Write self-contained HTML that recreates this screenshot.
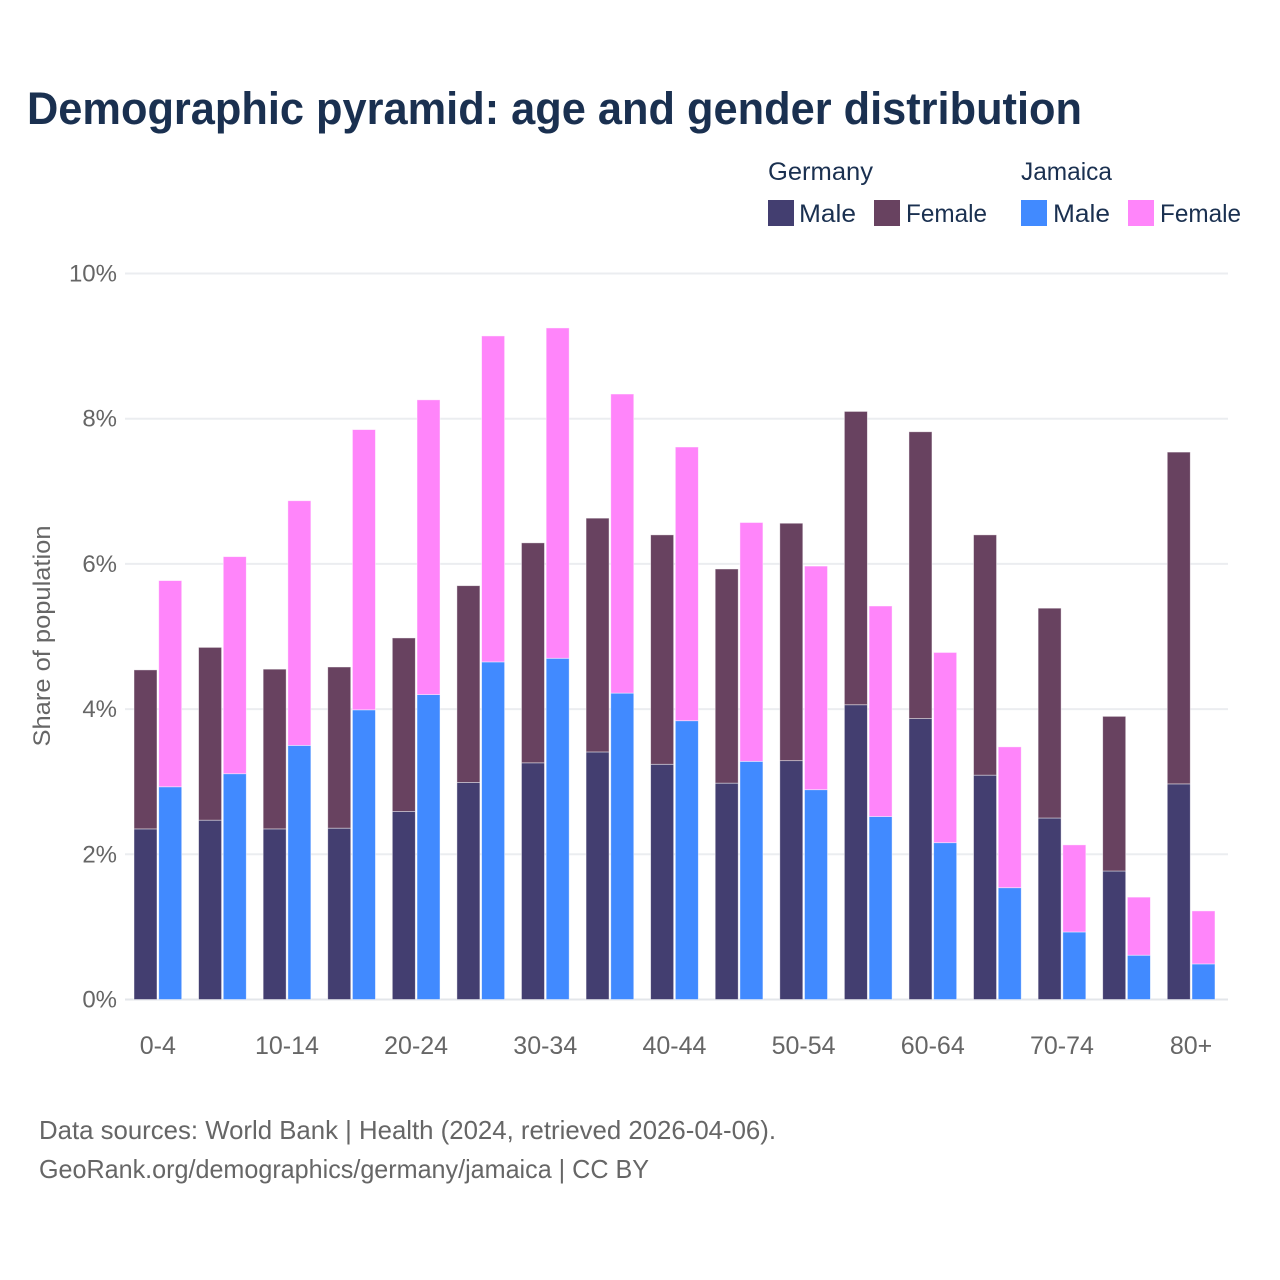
<!DOCTYPE html>
<html lang="en">
<head>
<meta charset="utf-8">
<title>Demographic pyramid: age and gender distribution</title>
<style>
html,body{margin:0;padding:0;background:#fff;width:1280px;height:1280px;overflow:hidden}
svg{display:block;font-family:"Liberation Sans",sans-serif}
</style>
</head>
<body>
<svg id="chart" width="1280" height="1280" viewBox="0 0 1280 1280" xmlns="http://www.w3.org/2000/svg">
<rect width="1280" height="1280" fill="#fff"/>
<text x="27" y="124" font-size="45" font-weight="700" fill="#1a3050" textLength="1055" lengthAdjust="spacingAndGlyphs">Demographic pyramid: age and gender distribution</text>

<g>
<text x="768" y="180" font-size="25" fill="#1a3050" textLength="105" lengthAdjust="spacingAndGlyphs">Germany</text>
<text x="1021" y="180" font-size="25" fill="#1a3050" textLength="91" lengthAdjust="spacingAndGlyphs">Jamaica</text>
<rect x="768" y="200" width="26" height="26" fill="#433e70"/>
<text x="799" y="222" font-size="25" fill="#1a3050" textLength="57" lengthAdjust="spacingAndGlyphs">Male</text>
<rect x="874" y="200" width="26" height="26" fill="#684260"/>
<text x="906" y="222" font-size="25" fill="#1a3050" textLength="81" lengthAdjust="spacingAndGlyphs">Female</text>
<rect x="1021" y="200" width="26" height="26" fill="#418aff"/>
<text x="1053" y="222" font-size="25" fill="#1a3050" textLength="57" lengthAdjust="spacingAndGlyphs">Male</text>
<rect x="1128" y="200" width="26" height="26" fill="#ff85fa"/>
<text x="1160" y="222" font-size="25" fill="#1a3050" textLength="81" lengthAdjust="spacingAndGlyphs">Female</text>
</g>

<g id="grid"></g>
<g id="yticks"></g>
<g id="bars"></g>
<g id="xticks"></g>

<text transform="translate(50,636) rotate(-90)" text-anchor="middle" font-size="24" fill="#666" textLength="221" lengthAdjust="spacingAndGlyphs">Share of population</text>

<text x="39" y="1139" font-size="26" fill="#666" textLength="737" lengthAdjust="spacingAndGlyphs">Data sources: World Bank | Health (2024, retrieved 2026-04-06).</text>
<text x="39" y="1178" font-size="26" fill="#666" textLength="610" lengthAdjust="spacingAndGlyphs">GeoRank.org/demographics/germany/jamaica | CC BY</text>
</svg>
<script>
const categories = ["0-4","5-9","10-14","15-19","20-24","25-29","30-34","35-39","40-44","45-49","50-54","55-59","60-64","65-69","70-74","75-79","80+"];
const xTickLabels = ["0-4","","10-14","","20-24","","30-34","","40-44","","50-54","","60-64","","70-74","","80+"];
const yTickValues = [0,2,4,6,8,10];
const germanyMale = [2.35,2.47,2.35,2.36,2.59,2.99,3.26,3.41,3.24,2.98,3.29,4.06,3.87,3.09,2.50,1.77,2.97];
const germanyFemale = [2.19,2.38,2.20,2.22,2.39,2.71,3.03,3.22,3.16,2.95,3.27,4.04,3.95,3.31,2.89,2.13,4.57];
const jamaicaMale = [2.93,3.11,3.50,3.99,4.20,4.65,4.70,4.22,3.84,3.28,2.89,2.52,2.16,1.54,0.93,0.61,0.49];
const jamaicaFemale = [2.84,2.99,3.37,3.86,4.06,4.49,4.55,4.12,3.77,3.29,3.08,2.90,2.62,1.94,1.20,0.80,0.73];

const NS = 'http://www.w3.org/2000/svg';
const plotLeft = 125, plotRight = 1228, y0 = 999.5, yTop = 273.5, yMax = 10;
const firstCenter = 157.8, step = 64.58;
function yScale(v){ return y0 - (v / yMax) * (y0 - yTop); }
function xCenter(i){ return firstCenter + i * step; }
function make(tag, attrs, parent){
  const el = document.createElementNS(NS, tag);
  for (const k in attrs) el.setAttribute(k, attrs[k]);
  parent.appendChild(el);
  return el;
}
const grid = document.getElementById('grid');
const yticks = document.getElementById('yticks');
yTickValues.forEach(function(v){
  const line = make('line', {x1: plotLeft, x2: plotRight, y1: yScale(v), y2: yScale(v), stroke: v === 0 ? '#e3e6ea' : '#ebedf0', 'stroke-width': 2}, grid);
  
  
  const t = make('text', {x: 117, y: yScale(v) + 8, 'text-anchor': 'end', 'font-size': 24, fill: '#666'}, yticks);
  t.textContent = v + '%';
  
  
});
const bars = document.getElementById('bars');
function bar(x, base, val, color, name){
  const yA = yScale(base), yB = yScale(base + val);
  const r = make('rect', {x: x, y: yB, width: 23, height: yA - yB, fill: color, stroke: '#fff', 'stroke-opacity': 0.55, 'stroke-width': 0.8}, bars);
  
  
}
categories.forEach(function(c, i){
  const cx = xCenter(i);
  bar(cx - 23.8, 0, germanyMale[i], '#433e70', 'bar-germany-male-' + c);
  bar(cx - 23.8, germanyMale[i], germanyFemale[i], '#684260', 'bar-germany-female-' + c);
  bar(cx + 0.9, 0, jamaicaMale[i], '#418aff', 'bar-jamaica-male-' + c);
  bar(cx + 0.9, jamaicaMale[i], jamaicaFemale[i], '#ff85fa', 'bar-jamaica-female-' + c);
});
const xticks = document.getElementById('xticks');
xTickLabels.forEach(function(l, i){
  if (!l) return;
  const t = make('text', {x: xCenter(i), y: 1054, 'text-anchor': 'middle', 'font-size': 25, fill: '#666'}, xticks);
  t.textContent = l;
  
  
});
</script>
</body>
</html>
